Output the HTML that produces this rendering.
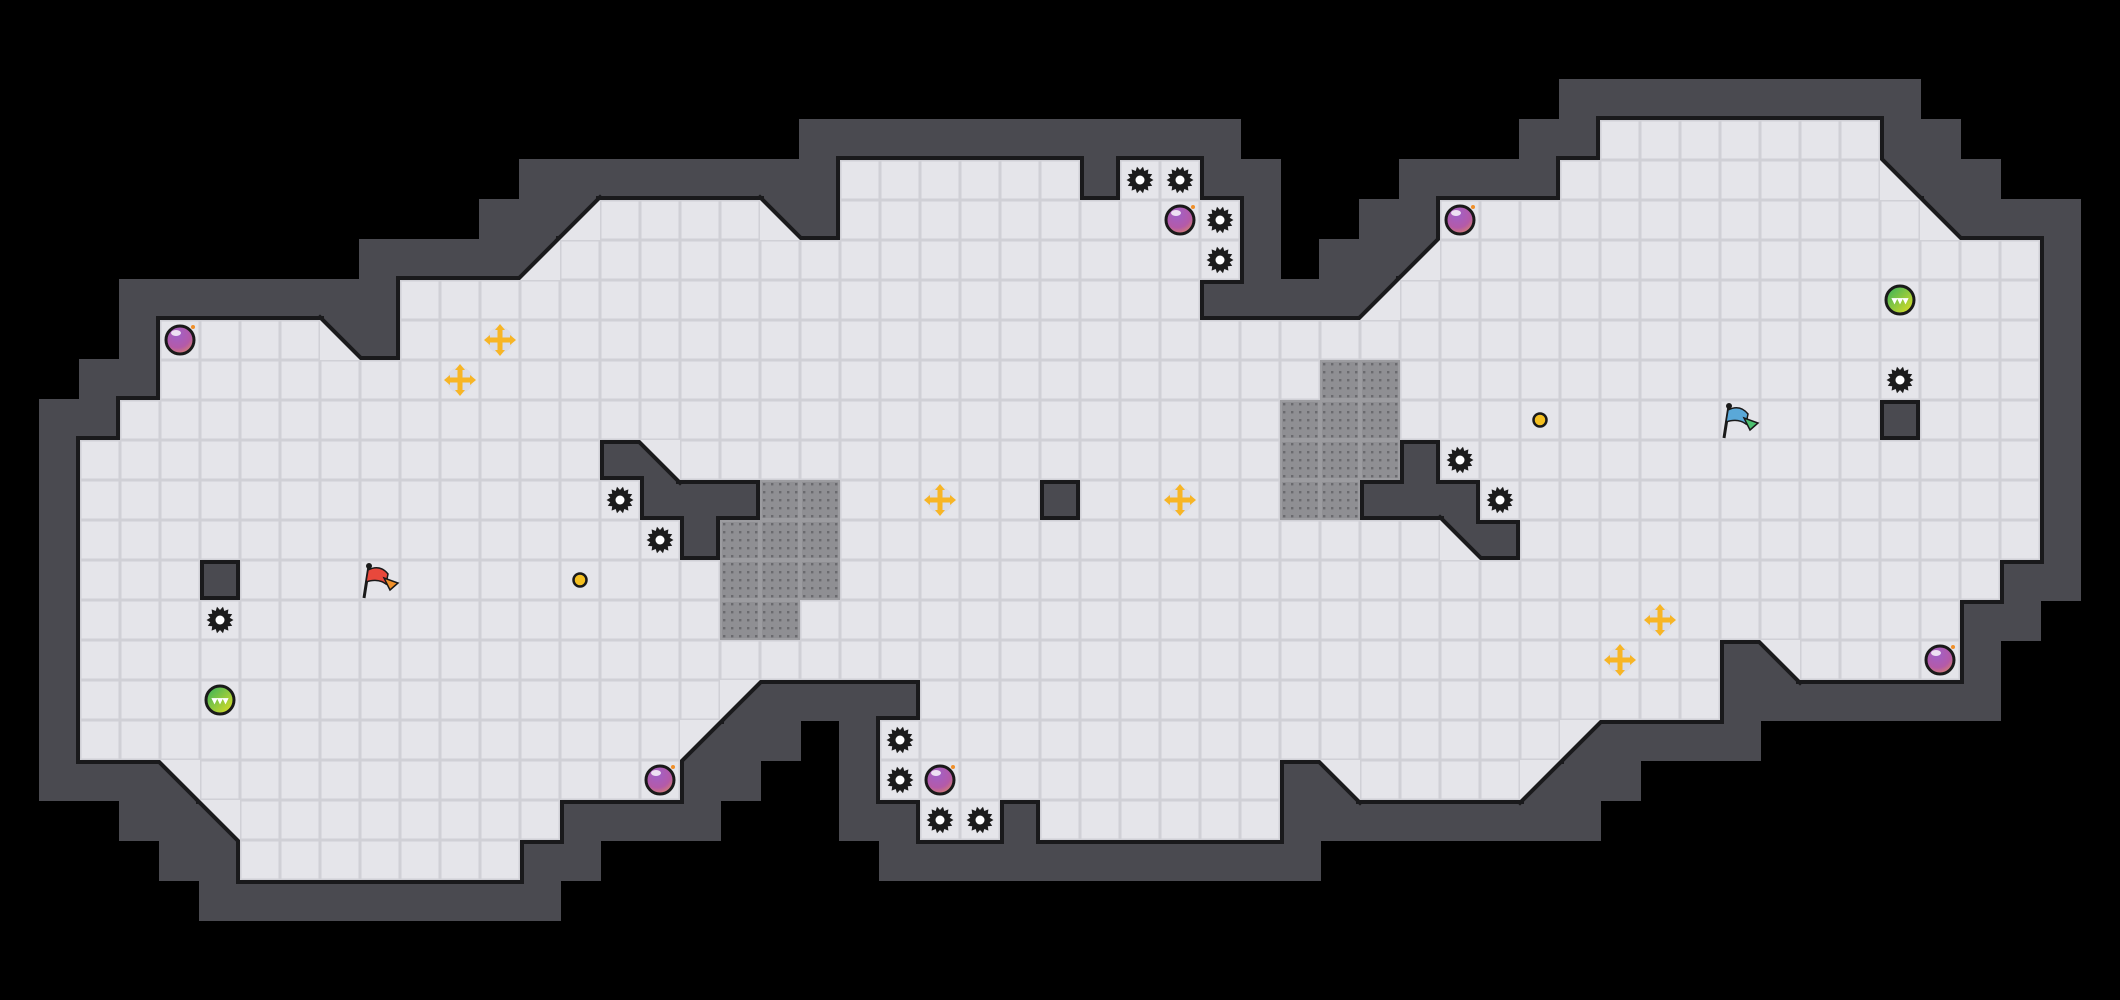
<!DOCTYPE html>
<html><head><meta charset="utf-8">
<style>html,body{margin:0;padding:0;background:#000;width:2120px;height:1000px;overflow:hidden}</style>
</head><body>
<svg id="s" width="2120" height="1000" viewBox="0 0 2120 1000" xmlns="http://www.w3.org/2000/svg">
<defs>
<radialGradient id="pg" cx="0.4" cy="0.3" r="0.8"><stop offset="0" stop-color="#a060c8"/><stop offset="0.6" stop-color="#b45aa8"/><stop offset="1" stop-color="#e08a60"/></radialGradient>
<linearGradient id="gg" x1="0" y1="0" x2="1" y2="1"><stop offset="0" stop-color="#30b060"/><stop offset="1" stop-color="#e8e020"/></linearGradient>
<pattern id="dots" width="8" height="8" patternUnits="userSpaceOnUse"><rect width="8" height="8" fill="#8f8f93"/><rect x="3" y="3" width="2.4" height="2.4" fill="#6a6a6e"/></pattern>
</defs>
<rect width="2120" height="1000" fill="#000"/>
</svg>
<script>
var rows={3:[[40,47]],4:[[21,27],[28,30],[39,47]],5:[[15,19],[21,31],[36,48]],6:[[14,31],[36,51]],7:[[10,30],[35,51]],8:[[4,8],[10,51]],9:[[4,51]],10:[[3,47],[48,51]],11:[[2,15],[17,35],[36,51]],12:[[2,16],[19,26],[27,34],[37,51]],13:[[2,17],[18,36],[38,51]],14:[[2,5],[6,50]],15:[[2,49]],16:[[2,43],[45,49]],17:[[2,18],[23,43]],18:[[2,17],[22,39]],19:[[5,17],[22,32],[34,38]],20:[[6,14],[23,25],[26,32]],21:[[6,13]]};
var diags=[[4,47,'bl'],[5,14,'br'],[5,19,'bl'],[5,48,'bl'],[6,13,'br'],[6,35,'br'],[7,34,'br'],[8,8,'bl'],[11,16,'tr'],[13,36,'bl'],[16,44,'tr'],[17,18,'tl'],[18,17,'tl'],[18,39,'tl'],[19,4,'tr'],[19,33,'tr'],[19,38,'tl'],[20,5,'tr']];
var F={},D={};
for(var r in rows)rows[r].forEach(function(a){for(var c=a[0];c<a[1];c++)F[r+','+c]=1;});
diags.forEach(function(d){D[d[0]+','+d[1]]=d[2];});
var S=40,out=[];
// walls
var W={};
function mark(r,c){for(var dr=-1;dr<=1;dr++)for(var dc=-1;dc<=1;dc++){var k=(r+dr)+','+(c+dc);if(!F[k])W[k]=1;}}
for(var k in F){var p=k.split(',');mark(+p[0],+p[1]);}
for(var k in D){var p=k.split(',');mark(+p[0],+p[1]);}
for(var k in W){var p=k.split(',');out.push('<rect x="'+(p[1]*S-1)+'" y="'+(p[0]*S-1)+'" width="42" height="42" fill="#4a4a50"/>');}
// black outline
for(var k in F){var p=k.split(',');out.push('<rect x="'+(p[1]*S-4)+'" y="'+(p[0]*S-4)+'" width="48" height="48" fill="#1a1a1c"/>');}
function tri(r,c,t){var x=c*S,y=r*S,pts;
 if(t=='bl')pts=[[x,y],[x,y+S],[x+S,y+S]];
 if(t=='br')pts=[[x+S,y],[x+S,y+S],[x,y+S]];
 if(t=='tl')pts=[[x,y],[x+S,y],[x,y+S]];
 if(t=='tr')pts=[[x,y],[x+S,y],[x+S,y+S]];
 return pts;}
for(var k in D){var p=k.split(','),r=+p[0],c=+p[1],t=D[k],pts=tri(r,c,t);
 var a,b; if(t=='bl'||t=='tr'){a=[c*S,r*S];b=[c*S+S,r*S+S];}else{a=[c*S+S,r*S];b=[c*S,r*S+S];}
 out.push('<line x1="'+a[0]+'" y1="'+a[1]+'" x2="'+b[0]+'" y2="'+b[1]+'" stroke="#1a1a1c" stroke-width="8" stroke-linecap="square"/>');}
// floors
for(var k in F){var p=k.split(','),x=p[1]*S,y=p[0]*S;
 out.push('<rect x="'+x+'" y="'+y+'" width="40" height="40" fill="#d0d0d6"/><rect x="'+(x+1.5)+'" y="'+(y+1.5)+'" width="37" height="37" fill="#e5e5ea"/>');}
for(var k in D){var p=k.split(','),pts=tri(+p[0],+p[1],D[k]);
 out.push('<polygon points="'+pts.map(function(q){return q.join(',')}).join(' ')+'" fill="#e5e5ea"/>');}
// grates
[[9,33],[9,34],[10,32],[10,33],[10,34],[11,32],[11,33],[11,34],[12,32],[12,33],[12,19],[12,20],[13,18],[13,19],[13,20],[14,18],[14,19],[14,20],[15,18],[15,19]].forEach(function(g){
 var x=g[1]*S,y=g[0]*S;out.push('<rect x="'+(x+1)+'" y="'+(y+1)+'" width="38" height="38" fill="url(#dots)" stroke="#9c9ca0" stroke-width="2"/>');});
function cx(c){return c*S+20}
// spikes
function spike(r,c){var x=cx(c),y=cx(r),p=[];for(var i=0;i<28;i++){var a=i*Math.PI/14,R=i%2?10:13.5;p.push((x+R*Math.cos(a)).toFixed(1)+','+(y+R*Math.sin(a)).toFixed(1));}
 return '<polygon points="'+p.join(' ')+'" fill="#1c1c1c"/><circle cx="'+x+'" cy="'+y+'" r="4.5" fill="#fff"/>';}
[[4,28],[4,29],[5,30],[6,30],[12,15],[13,16],[15,5],[11,36],[12,37],[9,47],[18,22],[19,22],[20,23],[20,24]].forEach(function(s){out.push(spike(s[0],s[1]));});
function orb(r,c){var x=cx(c),y=cx(r);return '<circle cx="'+x+'" cy="'+y+'" r="14" fill="url(#pg)" stroke="#1a1a1a" stroke-width="3"/><ellipse cx="'+(x-4)+'" cy="'+(y-7)+'" rx="5" ry="3" fill="#fff" opacity="0.8"/><circle cx="'+(x+13)+'" cy="'+(y-13)+'" r="2" fill="#f0902a"/>';}
[[8,4],[5,29],[5,36],[19,16],[19,23],[16,48]].forEach(function(o){out.push(orb(o[0],o[1]));});
function gorb(r,c){var x=cx(c),y=cx(r);return '<circle cx="'+x+'" cy="'+y+'" r="14" fill="url(#gg)" stroke="#1a1a1a" stroke-width="3"/><text x="'+x+'" y="'+(y+4)+'" font-family="Liberation Sans, sans-serif" font-size="11" font-weight="bold" fill="#fff" text-anchor="middle">▾▾▾</text>';}
out.push(gorb(17,5));out.push(gorb(7,47));
function star(r,c){var x=cx(c),y=cx(r);return '<circle cx="'+x+'" cy="'+y+'" r="13" fill="#d6d8e6" opacity="0.7"/><g fill="#f7b526"><rect x="'+(x-12)+'" y="'+(y-2.5)+'" width="24" height="5"/><rect x="'+(x-2.5)+'" y="'+(y-12)+'" width="5" height="24"/><polygon points="'+(x-16)+','+y+' '+(x-10)+','+(y-5)+' '+(x-10)+','+(y+5)+'"/><polygon points="'+(x+16)+','+y+' '+(x+10)+','+(y-5)+' '+(x+10)+','+(y+5)+'"/><polygon points="'+x+','+(y-16)+' '+(x-5)+','+(y-10)+' '+(x+5)+','+(y-10)+'"/><polygon points="'+x+','+(y+16)+' '+(x-5)+','+(y+10)+' '+(x+5)+','+(y+10)+'"/></g>';}
[[8,12],[9,11],[12,23],[12,29],[15,41],[16,40]].forEach(function(s){out.push(star(s[0],s[1]));});
function dot(r,c){return '<circle cx="'+cx(c)+'" cy="'+cx(r)+'" r="6.5" fill="#f5c020" stroke="#1a1a1a" stroke-width="2.5"/>';}
out.push(dot(14,14));out.push(dot(10,38));
function flag(r,c,col1,col2){var x=c*S,y=r*S;return '<line x1="'+(x+4)+'" y1="'+(y+38)+'" x2="'+(x+9)+'" y2="'+(y+6)+'" stroke="#1a1a1a" stroke-width="3"/><circle cx="'+(x+9)+'" cy="'+(y+6)+'" r="3" fill="#1a1a1a"/><path d="M'+(x+8)+' '+(y+10)+' Q'+(x+20)+' '+(y+4)+' '+(x+28)+' '+(y+14)+' L'+(x+26)+' '+(y+24)+' Q'+(x+18)+' '+(y+18)+' '+(x+6)+' '+(y+22)+'Z" fill="'+col1+'" stroke="#1a1a1a" stroke-width="1.5"/><path d="M'+(x+24)+' '+(y+18)+' L'+(x+38)+' '+(y+23)+' L'+(x+30)+' '+(y+30)+'Z" fill="'+col2+'" stroke="#1a1a1a" stroke-width="1.5"/>';}
out.push(flag(14,9,'#e8483c','#f0902a'));
out.push(flag(10,43,'#5aa8d8','#4cc070'));
document.getElementById('s').insertAdjacentHTML('beforeend',out.join(''));
</script>
</body></html>
